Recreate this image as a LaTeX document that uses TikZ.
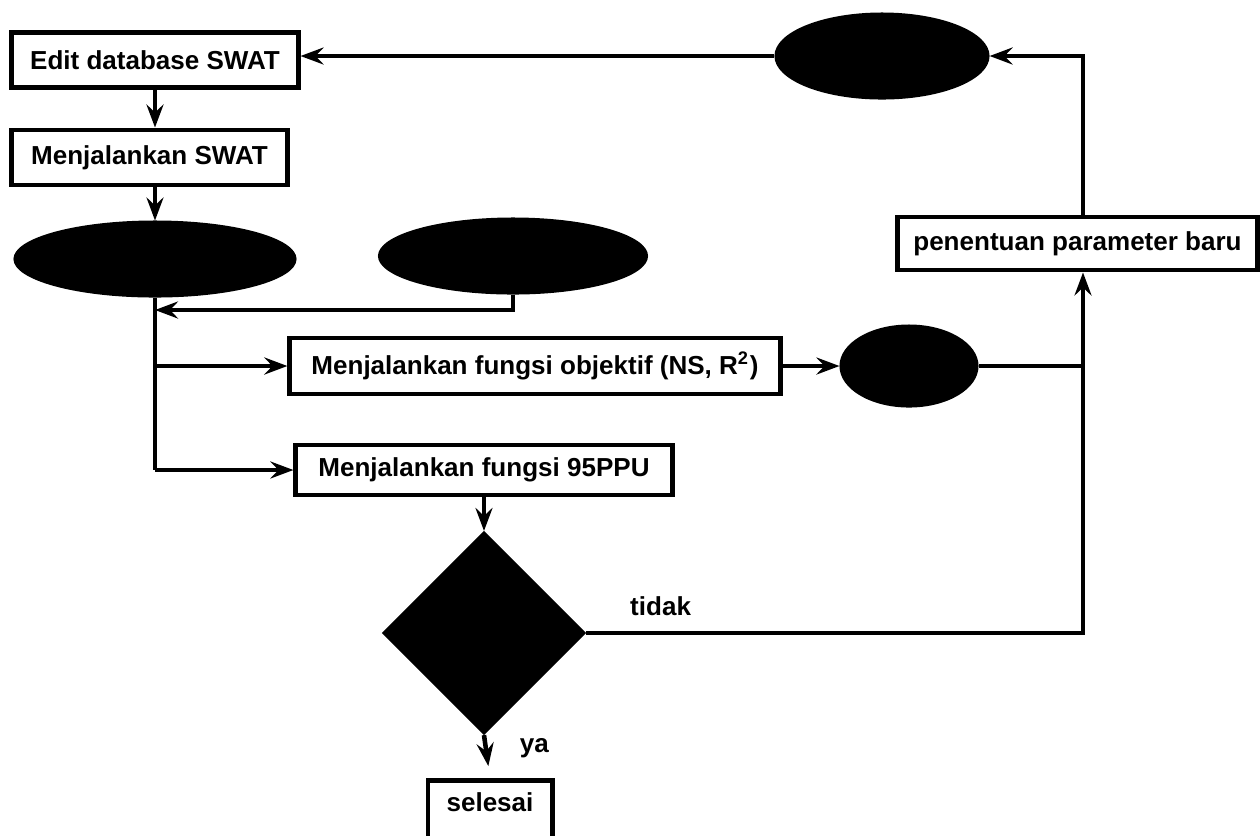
\documentclass[tikz,border=0pt]{standalone}
\usepackage{fontspec}
\setmainfont{Liberation Sans}
\usetikzlibrary{arrows.meta,positioning,shapes.geometric}

\begin{document}
\begin{tikzpicture}[x=0.01cm, y=-0.01cm, line width=1.3pt,
    >={Stealth[length=0.23cm, width=0.17cm, inset=0.08cm]},
    box/.style={draw, line width=1.4pt, inner sep=0pt, font=\fontsize{7.4}{9}\selectfont\bfseries},
    blob/.style={ellipse, fill=black, draw=none, inner sep=0pt, outer sep=0pt},
    lbl/.style={font=\fontsize{7.4}{9}\selectfont\bfseries}]
\useasboundingbox (0,0) rectangle (1260,835);

\node[box, minimum width=2.86cm, minimum height=0.55cm] (edit) at (155,60) {Edit database SWAT};
\node[box, minimum width=2.75cm, minimum height=0.55cm] (run) at (149.5,157.5) {Menjalankan SWAT};
\node[blob, minimum width=2.83cm, minimum height=0.77cm] (obs) at (155,259) {};
\node[blob, minimum width=2.7cm, minimum height=0.77cm] (sim) at (513,256) {};
\node[box, minimum width=4.9cm, minimum height=0.56cm] (obj) at (535,366) {Menjalankan fungsi objektif (NS, R\textsuperscript{2})};
\node[blob, minimum width=1.39cm, minimum height=0.83cm] (res) at (909,366) {};
\node[box, minimum width=3.76cm, minimum height=0.5cm] (ppu) at (484,470) {Menjalankan fungsi 95PPU};
\node[diamond, fill=black, aspect=1, inner sep=0pt, outer sep=0pt, minimum size=2.04cm] (cek) at (484,633) {};
\node[box, minimum width=1.24cm, text height=0.31cm, text depth=0.5cm, anchor=north] (done) at (490,778) {selesai};
\node[box, minimum width=3.6cm, minimum height=0.53cm] (baru) at (1077.5,243.5) {penentuan parameter baru};
\node[blob, minimum width=2.15cm, minimum height=0.87cm] (upd) at (882,56) {};
\coordinate (j1) at (155,310);
\coordinate (turn) at (1083,633);

\draw[->] (edit.south) -- (edit.south |- run.north);
\draw[->] (edit.south |- run.south) -- (obs.north);
\draw[->] (sim.south) |- (j1);
\draw (obs.south) -- (obs.south |- ppu.west);
\draw[->] (obs.south |- obj.west) -- (obj.west);
\draw[->] (obs.south |- ppu.west) -- (ppu.west);
\draw[->] (obj.east) -- (res.west);
\draw (res.east) -- (res.east -| turn);
\draw[->] (ppu.south) -- (cek.north);
\draw[->] (cek.east) -- (turn) node[lbl, pos=0.15, above=1pt] {tidak} -- (turn |- baru.south);
\draw[->, shorten >=0.12cm] (cek.south) -- (done.north) node[lbl, pos=0.3, right=0.2cm] {ya};
\draw[->] (turn |- baru.north) |- (upd.east);
\draw[->] (upd.west) -- (upd.west -| edit.east);
\end{tikzpicture}
\end{document}
